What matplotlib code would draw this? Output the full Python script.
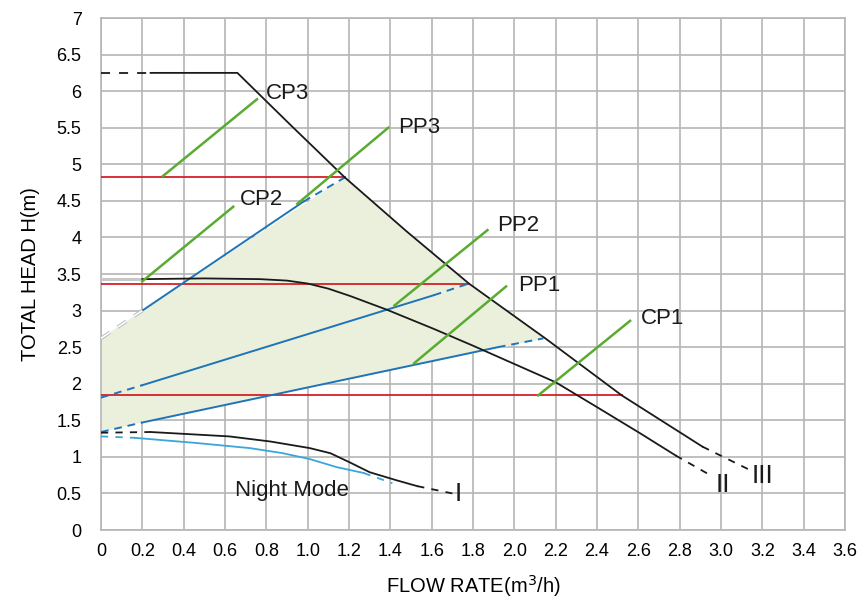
import numpy as np
import matplotlib.pyplot as plt

plt.rcParams['font.family'] = ['Liberation Sans', 'DejaVu Sans']

# speed III curve (CP3)
x_III = [0.24, 0.66, 0.92, 1.18, 1.48, 1.78, 2.15, 2.52, 2.91]
y_III = [6.25, 6.25, 5.53, 4.82, 4.08, 3.37, 2.62, 1.84, 1.14]
x_III_end = [2.91, 3.14]
y_III_end = [1.14, 0.82]

# speed II curve
x_II = [0.2, 0.5, 0.77, 0.9, 1.0, 1.1, 1.205, 1.385, 1.61, 1.8, 2.0, 2.2, 2.4, 2.61, 2.78]
y_II = [3.43, 3.44, 3.43, 3.41, 3.37, 3.3, 3.2, 3.01, 2.75, 2.52, 2.27, 2.02, 1.68, 1.32, 1.02]
x_II_end = [2.78, 2.96]
y_II_end = [1.02, 0.73]

# speed I
x_I = [0.24, 0.62, 0.82, 1.01, 1.11, 1.2, 1.3, 1.43, 1.53]
y_I = [1.34, 1.28, 1.21, 1.12, 1.05, 0.93, 0.79, 0.68, 0.6]
x_I_end = [1.53, 1.7]
y_I_end = [0.6, 0.5]

# night mode
x_night = [0.165, 0.46, 0.72, 0.88, 1.01, 1.14, 1.27]
y_night = [1.26, 1.19, 1.12, 1.05, 0.97, 0.86, 0.78]
x_night_end = [1.27, 1.41]
y_night_end = [0.78, 0.64]

# proportional pressure lines: start at x=0, knee, solid end, dashed end
pp_names = ['PP3', 'PP2', 'PP1']
pp_x = [[0, 0.2, 0.98, 1.18], [0, 0.2, 1.61, 1.78], [0, 0.2, 1.92, 2.14]]
pp_y = [[2.62, 3.0, 4.49, 4.82], [1.81, 1.98, 3.21, 3.37], [1.34, 1.47, 2.5, 2.62]]

# constant pressure lines
cp_y = [4.82, 3.37, 1.84]
cp_xend = [1.18, 1.78, 2.52]

# labels with leader lines
lab_text = ['CP3', 'CP2', 'PP3', 'PP2', 'PP1', 'CP1']
lab_x = [0.80, 0.67, 1.44, 1.915, 2.02, 2.61]
lab_y = [5.97, 4.52, 5.51, 4.16, 3.34, 2.89]
lead_x0 = [0.30, 0.20, 0.95, 1.42, 1.515, 2.115]
lead_y0 = [4.84, 3.40, 4.46, 3.07, 2.28, 1.84]
lead_x1 = [0.755, 0.64, 1.39, 1.87, 1.96, 2.56]
lead_y1 = [5.89, 4.42, 5.50, 4.10, 3.33, 2.86]

black = '#1a1a1a'
red = '#d42027'
blue = '#1f74b8'
lblue = '#3aa6db'
green = '#5aab32'

fig = plt.figure(figsize=(8.66, 6.09), dpi=100)
ax = fig.add_axes([0.1166, 0.1297, 0.8592, 0.8407])

# shaded working area: PP3 line up, III curve down, PP1 line back
x3 = np.array(x_III)
y3 = np.array(y_III)
m = (x3 >= 1.18) & (x3 <= 2.15)
poly_x = pp_x[0][:2] + list(x3[m]) + pp_x[2][:2][::-1]
poly_y = pp_y[0][:2] + list(y3[m]) + pp_y[2][:2][::-1]
ax.fill(poly_x, poly_y, color='#ebf0dd', lw=0, zorder=1)

# red CP lines
for y, xe in zip(cp_y, cp_xend):
    ax.plot([0, xe], [y, y], color=red, lw=1.3, zorder=3)

# blue PP lines
for k, xs, ys in zip(pp_names, pp_x, pp_y):
    ax.plot(xs[1:3], ys[1:3], color=blue, lw=1.4, zorder=4)
    ax.plot(xs[2:], ys[2:], color=blue, lw=1.4, ls=(0, (4, 3)), zorder=4)
    if k == 'PP3':
        ax.plot(xs[:2], ys[:2], color='#bbbbbb', lw=2.6, ls=(0, (3, 2.5)), zorder=4)
        ax.plot(xs[:2], ys[:2], color='white', lw=1.2,
                ls=(0, (3 * 2.6 / 1.2, 2.5 * 2.6 / 1.2)), zorder=4)
    else:
        ax.plot(xs[:2], ys[:2], color=blue, lw=1.4, ls=(0, (4, 3)), zorder=4)

# black pump curves
ax.plot([0, 0.24], [6.25, 6.25], color=black, lw=1.3, ls=(0, (5, 5)), zorder=5)
ax.plot(x_III, y_III, color=black, lw=1.3, zorder=5)
ax.plot(x_III_end, y_III_end, color=black, lw=1.3, ls=(0, (4, 4)), zorder=5)

ax.plot([0, 0.2], [3.43, 3.43], color='#c8c8c8', lw=2.2, zorder=5)
ax.plot(x_II, y_II, color=black, lw=1.3, zorder=5)
ax.plot(x_II_end, y_II_end, color=black, lw=1.3, ls=(0, (4, 4)), zorder=5)

ax.plot([0, 0.24], [1.33, 1.34], color=black, lw=1.3, ls=(0, (4, 4)), zorder=5)
ax.plot(x_I, y_I, color=black, lw=1.3, zorder=5)
ax.plot(x_I_end, y_I_end, color=black, lw=1.3, ls=(0, (4, 4)), zorder=5)

ax.plot([0, 0.165], [1.28, 1.26], color=lblue, lw=1.3, ls=(0, (4, 4)), zorder=5)
ax.plot(x_night, y_night, color=lblue, lw=1.3, zorder=5)
ax.plot(x_night_end, y_night_end, color=lblue, lw=1.3, ls=(0, (4, 4)), zorder=5)

# green leaders and labels
for a, b, c, d in zip(lead_x0, lead_y0, lead_x1, lead_y1):
    ax.plot([a, c], [b, d], color=green, lw=1.8, zorder=6)
for t, x, y in zip(lab_text, lab_x, lab_y):
    ax.text(x, y, t, fontsize=16, color=black, ha='left', va='center', zorder=7)

ax.text(0.925, 0.54, 'Night Mode', fontsize=16, color=black, ha='center', va='center', zorder=7)
ax.text(1.73, 0.49, 'I', fontsize=19, color=black, ha='center', va='center', zorder=7)
ax.text(3.01, 0.62, 'II', fontsize=19, color=black, ha='center', va='center', zorder=7)
ax.text(3.2, 0.74, 'III', fontsize=19, color=black, ha='center', va='center', zorder=7)

ax.set_xlim(0, 3.6)
ax.set_ylim(0, 7)
xt = np.round(np.arange(0, 3.61, 0.2), 1)
yt = np.arange(0, 7.01, 0.5)
ax.set_xticks(xt)
ax.set_yticks(yt)
ax.set_xticklabels(['0'] + ['%.1f' % v for v in xt[1:]])
ax.set_yticklabels(['%g' % v for v in yt])
ax.tick_params(length=0, labelsize=13)
ax.tick_params(axis='y', pad=14)
ax.tick_params(axis='x', pad=9)
ax.grid(True, color='#b5b5b5', lw=1.2, zorder=0)
ax.set_axisbelow(True)
for s in ax.spines.values():
    s.set_color('#b5b5b5')
    s.set_linewidth(1.2)

ax.set_xlabel('FLOW RATE(m$^3$/h)', fontsize=14.5, labelpad=10)
ax.set_ylabel('TOTAL HEAD H(m)', fontsize=14.5, labelpad=12)

plt.savefig('out.png')
plt.close()
